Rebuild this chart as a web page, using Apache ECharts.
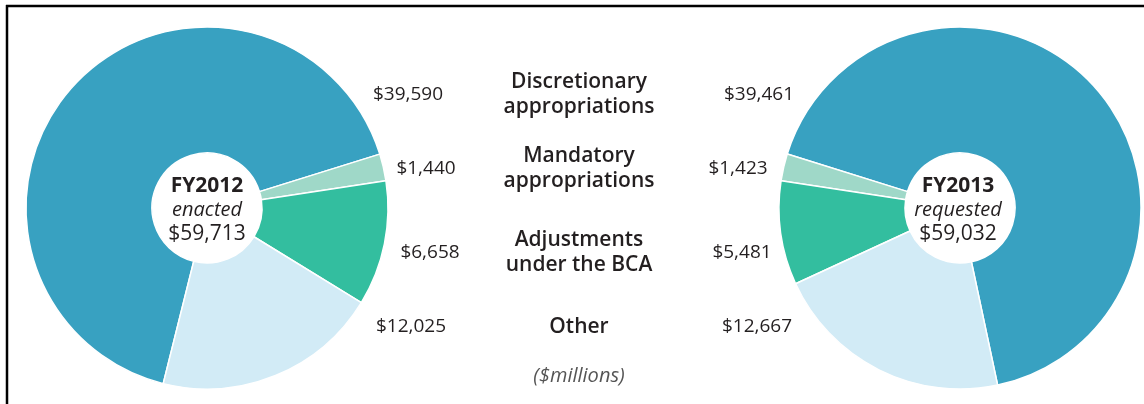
<!DOCTYPE html>
<html lang="en">
<head>
<meta charset="UTF-8">
<title>FY2012 enacted vs FY2013 requested</title>
<script src="https://cdn.jsdelivr.net/npm/echarts@6/dist/echarts.min.js"></script>
<style>
  html, body { margin: 0; padding: 0; background: #fff; }
  #chart { width: 1144px; height: 404px; }
</style>
</head>
<body>
<div id="chart"></div>
<script>
// categories and values ($millions)
const categories = ['Discretionary\nappropriations', 'Mandatory\nappropriations', 'Adjustments\nunder the BCA', 'Other'];
const fy2012 = [39590, 1440, 6658, 12025];
const fy2013 = [39461, 1423, 5481, 12667];
const years = ['FY2012', 'FY2013'];
const statuses = ['enacted', 'requested'];
const totals = [59713, 59032];
const unitNote = '($millions)';

// layout / style
const colors = ['#38a1c1', '#9fd8c8', '#33be9f', '#d2ebf6'];
const rowY = [95, 169, 253, 327];
const leftLabelX = [408, 426, 430, 411];
const rightLabelX = [759, 738, 742, 757];
const FONT = '"Open Sans", sans-serif';
const INK = '#231f20';

const money = v => '$' + v.toLocaleString('en-US');

function pieSeries(name, values, cx, clockwise, startAngle, labelX) {
  return {
    type: 'pie',
    name: name,
    center: [cx, 208],
    radius: [55, 181],
    clockwise: clockwise,
    startAngle: startAngle,
    avoidLabelOverlap: false,
    silent: true,
    itemStyle: { borderColor: '#fff', borderWidth: 1.5 },
    label: {
      show: true,
      formatter: p => money(p.value),
      fontFamily: FONT, fontSize: 19, color: INK
    },
    labelLine: { show: false },
    labelLayout: p => ({
      x: labelX[p.dataIndex], y: rowY[p.dataIndex],
      align: 'center', verticalAlign: 'middle'
    }),
    data: values.map((v, i) => ({ name: categories[i], value: v, itemStyle: { color: colors[i] } }))
  };
}

function centerText(i, cx) {
  return {
    type: 'text', x: cx, y: 210, silent: true,
    style: {
      text: '{a|' + years[i] + '}\n{b|' + statuses[i] + '}\n{c|' + money(totals[i]) + '}',
      align: 'center', verticalAlign: 'middle',
      fill: INK,
      rich: {
        a: { fontFamily: FONT, fontSize: 21, fontWeight: 'bold', lineHeight: 24, fill: INK },
        b: { fontFamily: FONT, fontSize: 20, fontStyle: 'italic', lineHeight: 24, fill: INK },
        c: { fontFamily: FONT, fontSize: 21, lineHeight: 24, fill: INK }
      }
    }
  };
}

const chart = echarts.init(document.getElementById('chart'));

const graphics = [
  { type: 'line', shape: { x1: 6, y1: 6, x2: 1144, y2: 6 }, style: { stroke: '#000', lineWidth: 2.5 } },
  { type: 'line', shape: { x1: 7, y1: 5, x2: 7, y2: 404 }, style: { stroke: '#000', lineWidth: 2.5 } },
  centerText(0, 207),
  centerText(1, 958),
  {
    type: 'text', x: 579, y: 376, silent: true,
    style: { text: unitNote, align: 'center', verticalAlign: 'middle', fontFamily: FONT, fontSize: 20, fontStyle: 'italic', fill: '#555' }
  }
];
categories.forEach((c, i) => {
  graphics.push({
    type: 'text', x: 579, y: rowY[i], silent: true,
    style: {
      text: c, align: 'center', verticalAlign: 'middle',
      fontFamily: FONT, fontSize: 21, fontWeight: 600, lineHeight: 25, fill: INK
    }
  });
});

chart.setOption({
  animation: false,
  backgroundColor: '#fff',
  series: [
    pieSeries('FY2012 enacted', fy2012, 207, true, 256, leftLabelX),
    pieSeries('FY2013 requested', fy2013, 960, false, 282, rightLabelX)
  ],
  graphic: graphics
});
window.addEventListener('resize', () => chart.resize());
</script>
</body>
</html>
